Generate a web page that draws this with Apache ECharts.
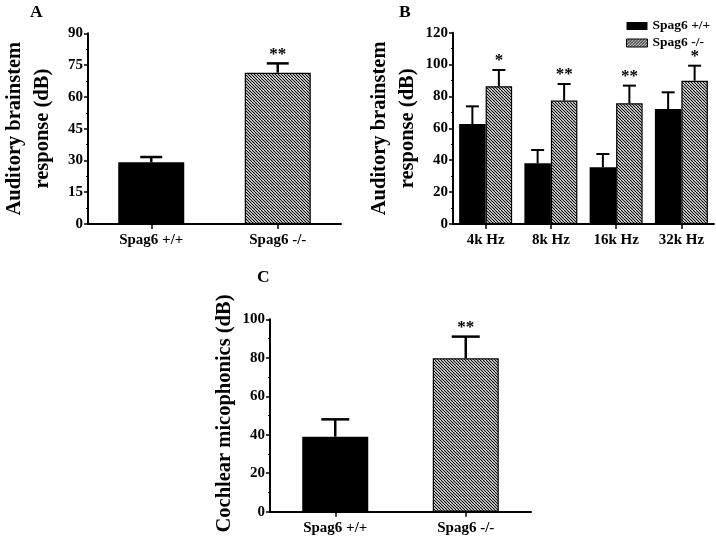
<!DOCTYPE html>
<html><head><meta charset="utf-8">
<script src="https://cdn.jsdelivr.net/npm/echarts@6/dist/echarts.min.js"></script>
<style>html,body{margin:0;padding:0;background:#fff}#c{width:716px;height:539px}</style>
</head><body><div id="c"></div>
<script>
// ---------- data ----------
const genotypes = ['Spag6 +/+', 'Spag6 -/-'];
const freqs = ['4k Hz', '8k Hz', '16k Hz', '32k Hz'];
const ticksA = [0, 15, 30, 45, 60, 75, 90];
const ticksB = [0, 20, 40, 60, 80, 100, 120];
const ticksC = [0, 20, 40, 60, 80, 100];
const abrMeanA = [29.1, 71.4];
const abrErrA = [2.5, 4.4];
const abrSigA = ['', '**'];
const abrWtB = [62.7, 38.1, 35.6, 72.1];
const abrWtErrB = [11.1, 8.3, 8.3, 10.5];
const abrKoB = [86.4, 77.4, 75.7, 89.9];
const abrKoErrB = [10.2, 10.4, 11.1, 9.4];
const abrSigWtB = ['', '', '', ''];
const abrSigKoB = ['*', '**', '**', '*'];
const cmMeanC = [39.0, 79.7];
const cmErrC = [9.0, 11.3];
const cmSigC = ['', '**'];

// ---------- styles ----------
const FONT = '"Liberation Serif", "Times New Roman", serif';
function hatch(dir) {
  const s = 6, c = document.createElement('canvas');
  c.width = s; c.height = s;
  const g = c.getContext('2d');
  g.fillStyle = '#fff'; g.fillRect(0, 0, s, s);
  g.strokeStyle = '#000'; g.lineWidth = 1.1;
  for (let k = -3; k <= 3; k++) {
    const o = k * 3;
    g.beginPath();
    if (dir > 0) { g.moveTo(o, s); g.lineTo(o + s, 0); }
    else { g.moveTo(o, 0); g.lineTo(o + s, s); }
    g.stroke();
  }
  return { image: c, repeat: 'repeat' };
}
const hatchBar = hatch(-1);
const hatchLegend = hatch(1);
const solidStyle = { color: '#000' };
const hatchStyle = { color: hatchBar, borderColor: '#000', borderWidth: 1.2 };

function yAx(gi, ticks, name, gap, pad) {
  return {
    type: 'value', gridIndex: gi,
    min: ticks[0], max: ticks[ticks.length - 1], interval: ticks[1] - ticks[0],
    axisLine: { show: true, lineStyle: { color: '#000', width: 2 } },
    axisTick: { show: true, length: 4, lineStyle: { color: '#000', width: 1.5 } },
    minorTick: { show: true, splitNumber: 2, length: 2, lineStyle: { color: '#000', width: 1.2 } },
    splitLine: { show: false },
    axisLabel: { color: '#000', fontFamily: FONT, fontWeight: 'bold', fontSize: 15, margin: 5 },
    name: name, nameLocation: 'middle', nameGap: gap,
    nameTextStyle: { color: '#000', fontFamily: FONT, fontWeight: 'bold', fontSize: 20.5, lineHeight: 28, padding: pad || 0 }
  };
}
function xAx(gi, cats) {
  return {
    type: 'category', gridIndex: gi, data: cats,
    axisLine: { show: true, lineStyle: { color: '#000', width: 2 } },
    axisTick: { show: true, alignWithLabel: true, length: 5, lineStyle: { color: '#000', width: 1.5 } },
    axisLabel: { color: '#000', fontFamily: FONT, fontWeight: 'bold', fontSize: 15, margin: 9 },
    splitLine: { show: false }
  };
}
function errSeries(gi, means, errs, sigs, offset, capW, lw) {
  return {
    type: 'custom', xAxisIndex: gi, yAxisIndex: gi, z: 1, clip: false, silent: true,
    data: means.map((m, i) => [i, m, m + errs[i]]),
    renderItem: function (params, api) {
      const base = api.coord([api.value(0), api.value(1)]);
      const top = api.coord([api.value(0), api.value(2)]);
      const x = base[0] + offset;
      const st = { stroke: '#000', lineWidth: lw };
      const children = [
        { type: 'line', shape: { x1: x, y1: base[1], x2: x, y2: top[1] }, style: st },
        { type: 'line', shape: { x1: x - capW / 2, y1: top[1], x2: x + capW / 2, y2: top[1] }, style: st }
      ];
      const s = sigs[params.dataIndex];
      if (s) children.push({ type: 'text', x: x, y: top[1] - 9,
        style: { text: s, fill: '#000', font: 'bold 17px ' + FONT, align: 'center', verticalAlign: 'middle' } });
      return { type: 'group', children: children };
    }
  };
}

const barWB = 26.5;
const option = {
  animation: false,
  backgroundColor: '#fff',
  graphic: [
    { type: 'text', left: 30, top: 3, style: { text: 'A', font: 'bold 17.5px ' + FONT, fill: '#000' } },
    { type: 'text', left: 399, top: 3, style: { text: 'B', font: 'bold 17.5px ' + FONT, fill: '#000' } },
    { type: 'text', left: 257, top: 268, style: { text: 'C', font: 'bold 17.5px ' + FONT, fill: '#000' } }
  ],
  legend: {
    orient: 'vertical', left: 621, top: 14, itemWidth: 21, itemHeight: 8, itemGap: 3,
    selectedMode: false,
    textStyle: { color: '#000', fontFamily: FONT, fontWeight: 'bold', fontSize: 13.5, lineHeight: 14 },
    data: [
      { name: 'Spag6 +/+', icon: 'rect', itemStyle: { color: '#000' } },
      { name: 'Spag6 -/-', icon: 'rect', itemStyle: { color: hatchLegend, borderColor: '#000', borderWidth: 1 } }
    ]
  },
  grid: [
    { left: 80, top: 33.3, width: 261, height: 190.7 },
    { left: 453, top: 32.7, width: 261, height: 191.3 },
    { left: 270, top: 319.3, width: 261, height: 192.4 }
  ],
  xAxis: [xAx(0, genotypes), xAx(1, freqs), xAx(2, genotypes)],
  yAxis: [
    yAx(0, ticksA, 'Auditory brainstem\nresponse (dB)', 31),
    yAx(1, ticksB, 'Auditory brainstem\nresponse (dB)', 26),
    yAx(2, ticksC, 'Cochlear micophonics (dB)', 25, [0, 0, 0, 4])
  ],
  series: [
    { type: 'bar', name: 'ABR', xAxisIndex: 0, yAxisIndex: 0, barWidth: 66, z: 2,
      data: abrMeanA.map((v, i) => ({ value: v, itemStyle: i ? hatchStyle : solidStyle })) },
    errSeries(0, abrMeanA, abrErrA, abrSigA, 0, 22, 2.5),
    { type: 'bar', name: 'Spag6 +/+', xAxisIndex: 1, yAxisIndex: 1, barWidth: barWB, barGap: '0%', z: 2,
      itemStyle: solidStyle, data: abrWtB },
    { type: 'bar', name: 'Spag6 -/-', xAxisIndex: 1, yAxisIndex: 1, barWidth: barWB, barGap: '0%', z: 2,
      itemStyle: hatchStyle, data: abrKoB },
    errSeries(1, abrWtB, abrWtErrB, abrSigWtB, -barWB / 2, 13, 2),
    errSeries(1, abrKoB, abrKoErrB, abrSigKoB, barWB / 2, 13, 2),
    { type: 'bar', name: 'CM', xAxisIndex: 2, yAxisIndex: 2, barWidth: 66, z: 2,
      data: cmMeanC.map((v, i) => ({ value: v, itemStyle: i ? hatchStyle : solidStyle })) },
    errSeries(2, cmMeanC, cmErrC, cmSigC, 0, 28, 2.5)
  ]
};
const chart = echarts.init(document.getElementById('c'), null, { renderer: 'canvas' });
chart.setOption(option);
</script>
</body></html>
